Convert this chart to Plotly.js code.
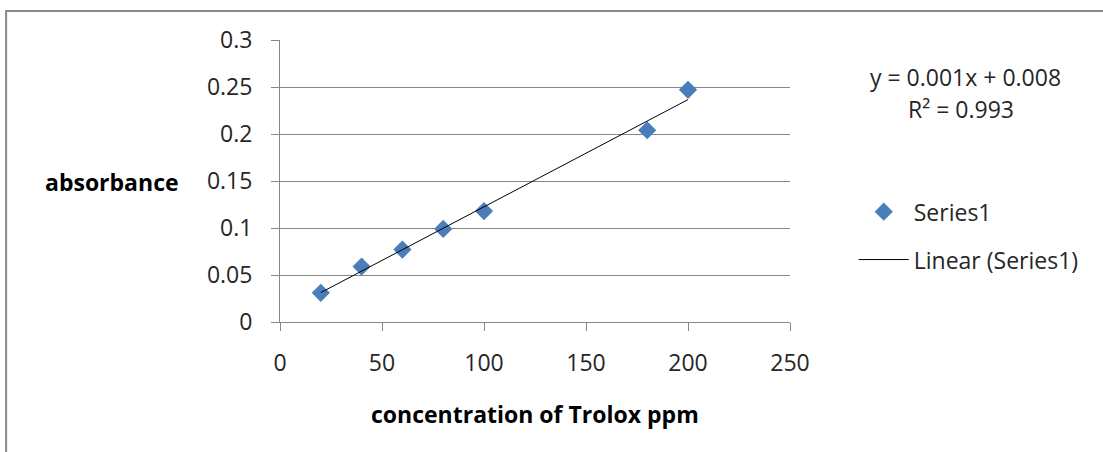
<!DOCTYPE html>
<html>
<head>
<meta charset="utf-8">
<script src="https://cdn.plot.ly/plotly-3.0.1.min.js"></script>
<style>
  html, body { margin: 0; padding: 0; background: #ffffff; }
  #chart { width: 1103px; height: 452px; }
</style>
</head>
<body>
<div id="chart"></div>
<script>
// Trolox calibration: concentration (ppm) vs absorbance
const concentration = [20, 40, 60, 80, 100, 180, 200];
const absorbance = [0.031, 0.059, 0.077, 0.099, 0.118, 0.204, 0.247];
const seriesName = 'Series1';
const trendName = 'Linear (Series1)';
const xTitle = 'concentration of Trolox ppm';
const yTitle = 'absorbance';

// Least-squares linear fit of the series
function linearFit(xs, ys) {
  const n = xs.length;
  const mx = xs.reduce((a, b) => a + b, 0) / n;
  const my = ys.reduce((a, b) => a + b, 0) / n;
  let sxy = 0, sxx = 0, syy = 0;
  for (let i = 0; i < n; i++) {
    sxy += (xs[i] - mx) * (ys[i] - my);
    sxx += (xs[i] - mx) ** 2;
    syy += (ys[i] - my) ** 2;
  }
  const slope = sxy / sxx;
  return { slope, intercept: my - slope * mx, r2: (sxy * sxy) / (sxx * syy) };
}

const fit = linearFit(concentration, absorbance);
const xMin = Math.min(...concentration);
const xMax = Math.max(...concentration);
const trendX = [xMin, xMax];
const trendY = trendX.map(x => fit.slope * x + fit.intercept);

const FONT = 'Open Sans, Liberation Sans, sans-serif';
const GRID = '#868686';
const TXT = '#262626';

const traces = [
  {
    x: concentration, y: absorbance, name: seriesName,
    type: 'scatter', mode: 'markers', legendgroup: 'a',
    marker: { symbol: 'diamond', size: 14, color: '#4A7EBB' }
  },
  {
    x: trendX, y: trendY, name: trendName,
    type: 'scatter', mode: 'lines', legendgroup: 'b',
    line: { color: '#000000', width: 1 }
  }
];

const layout = {
  width: 1103, height: 452, autosize: false,
  margin: { l: 280, r: 313, t: 40, b: 130, pad: 0 },
  paper_bgcolor: '#ffffff', plot_bgcolor: '#ffffff',
  font: { family: FONT, size: 23, color: TXT },
  showlegend: true,
  legend: {
    x: 1.125, y: 0.306, xanchor: 'left', yanchor: 'middle',
    traceorder: 'grouped', tracegroupgap: 15, itemwidth: 50,
    font: { family: FONT, size: 23, color: TXT },
    bgcolor: 'rgba(0,0,0,0)'
  },
  xaxis: {
    range: [0, 250], dtick: 50, tick0: 0,
    showgrid: false, zeroline: false,
    showline: true, linecolor: GRID, linewidth: 1,
    ticks: 'outside', ticklen: 8, tickcolor: GRID, tickwidth: 1,
    ticklabelstandoff: 12,
    tickfont: { family: FONT, size: 23, color: TXT }
  },
  yaxis: {
    range: [0, 0.3], dtick: 0.05, tick0: 0,
    showgrid: true, gridcolor: GRID, gridwidth: 1, zeroline: false,
    showline: true, linecolor: GRID, linewidth: 1,
    ticks: 'outside', ticklen: 8, tickcolor: GRID, tickwidth: 1,
    ticklabelstandoff: 14,
    tickfont: { family: FONT, size: 23, color: TXT }
  },
  annotations: [
    {
      text: '<b>' + yTitle + '</b>', xref: 'paper', yref: 'paper',
      x: -0.33, y: 0.497, xanchor: 'center', yanchor: 'middle', showarrow: false,
      font: { family: FONT, size: 23, color: '#000000' }
    },
    {
      text: '<b>' + xTitle + '</b>', xref: 'paper', yref: 'paper',
      x: 0.5, y: -0.326, xanchor: 'center', yanchor: 'middle', showarrow: false,
      font: { family: FONT, size: 23, color: '#000000' }
    },
    {
      text: 'y = ' + fit.slope.toFixed(3) + 'x + ' + fit.intercept.toFixed(3),
      xref: 'paper', yref: 'paper', x: 1.345, y: 0.869,
      xanchor: 'center', yanchor: 'middle', showarrow: false,
      font: { family: FONT, size: 23, color: TXT }
    },
    {
      text: 'R\u00B2 = ' + fit.r2.toFixed(3),
      xref: 'paper', yref: 'paper', x: 1.336, y: 0.756,
      xanchor: 'center', yanchor: 'middle', showarrow: false,
      font: { family: FONT, size: 23, color: TXT }
    }
  ],
  shapes: [
    {
      type: 'rect', xref: 'paper', yref: 'paper',
      x0: -0.537, x1: 1.7, y0: -0.6, y1: 1.103,
      line: { color: '#8a8a8a', width: 2 }, fillcolor: 'rgba(0,0,0,0)', layer: 'below'
    }
  ]
};

Plotly.newPlot('chart', traces, layout, { staticPlot: true, displayModeBar: false });
</script>
</body>
</html>
